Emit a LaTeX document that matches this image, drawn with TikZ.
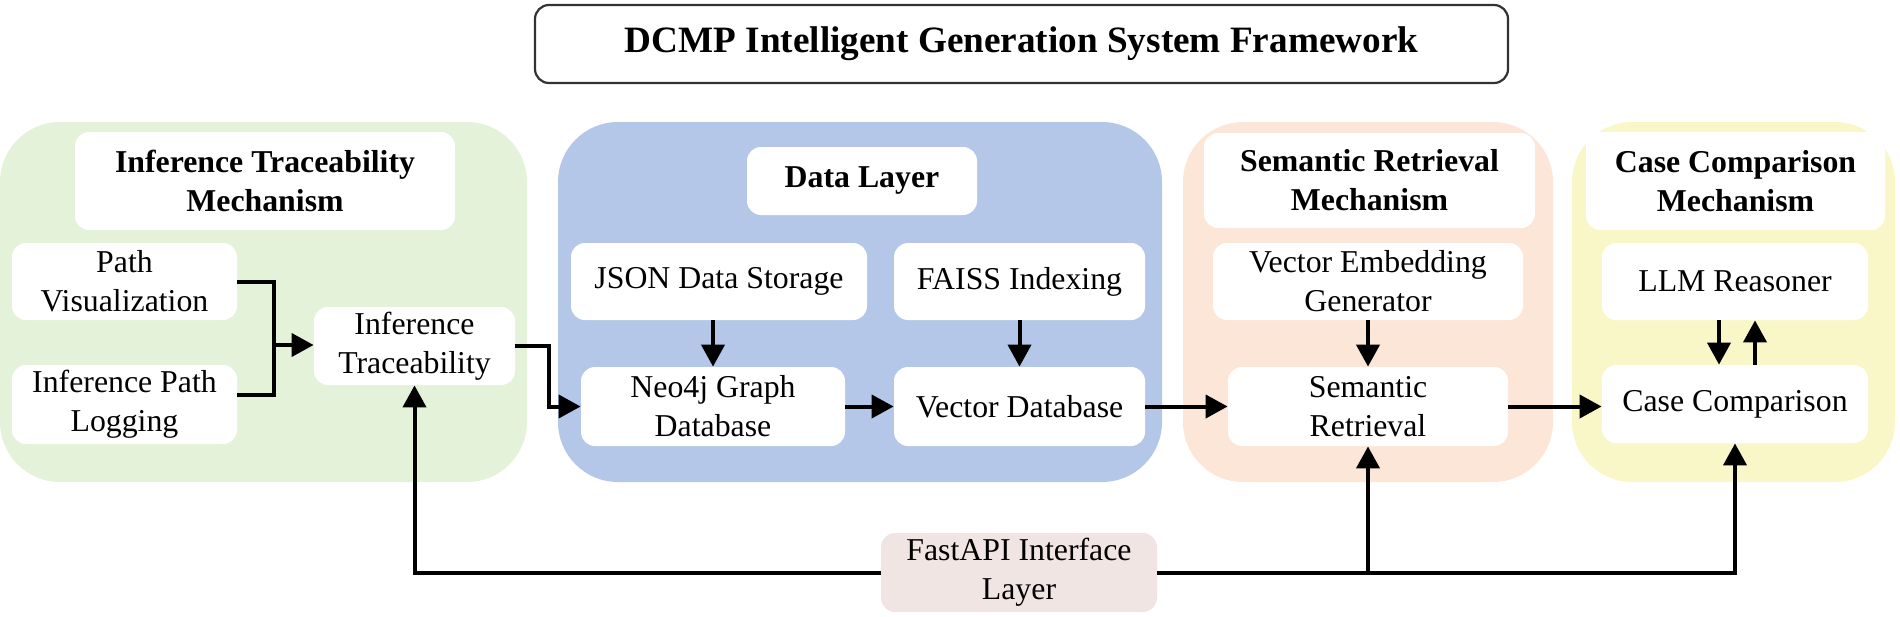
\documentclass[tikz,border=0pt]{standalone}
\usepackage{fontspec}
\setmainfont{Liberation Serif}
\usetikzlibrary{arrows.meta}
\definecolor{pgreen}{HTML}{E5F2DA}
\definecolor{pblue}{HTML}{B4C7E9}
\definecolor{porange}{HTML}{FCE6D7}
\definecolor{pyellow}{HTML}{F9F7C8}
\definecolor{ppink}{HTML}{F1E5E3}
\begin{document}
\begin{tikzpicture}[x=0.5pt,y=-0.5pt,
  sz/.style 2 args={minimum width=#1pt, minimum height=#2pt},
  panel/.style={rounded corners=30pt, draw=none, inner sep=0pt},
  box/.style={fill=white, rounded corners=7pt, inner sep=0pt, align=center, font=\fontsize{15.9}{19.5}\selectfont},
  hdr/.style={box, font=\fontsize{15.9}{19.5}\selectfont\bfseries},
  conn/.style={line width=2pt, -{Triangle[length=11pt,width=11.5pt]}},
  plain/.style={line width=2pt},
]
\useasboundingbox (0,0) rectangle (1900,616);

% title
\node[draw=black!80, line width=1.1pt, rounded corners=7pt, fill=white, inner sep=0pt,
  sz={486.5}{39}, font=\fontsize{18.6}{23}\selectfont\bfseries] (title) at (1021.5,44)
  {DCMP Intelligent Generation System Framework};

% panels
\node[panel, fill=pgreen,  sz={263.5}{180}] (gp) at (263.5,302) {};
\node[panel, fill=pblue,   sz={302}{180}]   (bp) at (860,302) {};
\node[panel, fill=porange, sz={185}{180}]   (op) at (1368,302) {};
\node[panel, fill=pyellow, sz={161.5}{180}] (yp) at (1733.5,302) {};

% headers
\node[hdr, sz={190}{49}]    (h1) at (265,181)      {Inference Traceability\\Mechanism};
\node[hdr, sz={115}{34}]    (h2) at (862,181)      {Data Layer};
\node[hdr, sz={165.5}{47.5}] (h3) at (1369.5,180.5) {Semantic Retrieval\\Mechanism};
\node[hdr, sz={149.5}{49}]  (h4) at (1735.5,181)   {Case Comparison\\Mechanism};

% green
\node[box, sz={112.5}{38.5}] (pv)  at (124.5,281.5) {Path\\Visualization};
\node[box, sz={112.5}{39.5}] (ipl) at (124.5,404.5) {Inference Path\\Logging};
\node[box, sz={100.5}{39}]   (it)  at (414.5,346)   {Inference\\Traceability};

% blue
\node[box, sz={148}{38.5}]   (json)  at (719,281.5)    {JSON Data Storage};
\node[box, sz={125.5}{38.5}] (faiss) at (1019.5,281.5) {FAISS Indexing};
\node[box, sz={132}{39.5}]   (neo)   at (713,406.5)    {Neo4j Graph\\Database};
\node[box, sz={125.5}{39.5}] (vdb)   at (1019.5,406.5) {Vector Database};

% orange
\node[box, sz={155}{38.5}] (veg) at (1368,281.5) {Vector Embedding\\Generator};
\node[box, sz={140}{39.5}] (sr)  at (1368,406.5) {Semantic\\Retrieval};

% yellow
\node[box, sz={133}{38.5}] (llm) at (1735,281.5) {LLM Reasoner};
\node[box, sz={133}{39}]   (cc)  at (1735,404)   {Case Comparison};

% bottom
\node[box, fill=ppink, sz={138}{39.5}] (fapi) at (1019,572.5) {FastAPI Interface\\Layer};

% connectors
\coordinate (mj) at (274,345);
\coordinate (iplo) at (237,395);
\draw[plain] (pv.east) -| (mj);
\draw[plain] (iplo) -| (mj);
\draw[conn] (mj) -- (mj -| it.west);
\draw[conn] (it.east) -- ++(34,0) |- (neo.west);
\draw[conn] (json.south -| neo.north) -- (neo.north);
\draw[conn] (faiss) -- (vdb);
\draw[conn] (neo) -- (vdb);
\draw[conn] (vdb) -- (sr);
\draw[conn] (veg) -- (sr);
\draw[conn] (sr.east) -- (sr.east -| cc.west);
\draw[conn] ([xshift=-8pt]llm.south) -- ([xshift=-8pt]cc.north);
\draw[conn] ([xshift=10pt]cc.north) -- ([xshift=10pt]llm.south);
\draw[conn] (fapi.west) -| (it.south);
\draw[conn] (fapi.east) -| (sr.south);
\draw[conn] (fapi.east) -| (cc.south);
\end{tikzpicture}
\end{document}
